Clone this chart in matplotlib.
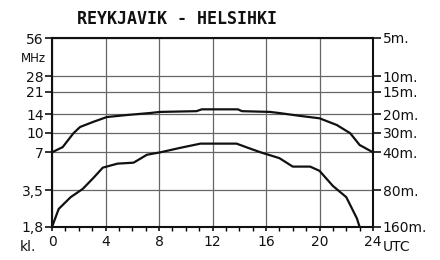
import numpy as np
import matplotlib
matplotlib.use('Agg')
import matplotlib.pyplot as plt
from matplotlib.ticker import NullLocator, FixedLocator

# %% data (hour UTC, MHz)
title = 'REYKJAVIK - HELSIHKI'

upper_hours = [0, 0.8, 1.6, 2.1, 3.1, 4.1, 5.6, 7.3, 8.1, 10.8, 11.2, 13.9, 14.2,
               16.3, 17.0, 18.5, 20.0, 21.3, 22.3, 23.0, 24]
upper_mhz = [7.0, 7.7, 9.9, 11.1, 12.2, 13.3, 13.8, 14.3, 14.6, 14.8, 15.3, 15.3, 14.8,
             14.6, 14.3, 13.6, 13.0, 11.5, 9.9, 8.0, 7.0]

lower_hours = [0, 0.5, 1.4, 2.3, 3.1, 3.8, 4.9, 6.1, 7.1, 8.1, 9.6, 11.1, 13.8,
               14.8, 15.6, 17.0, 18.0, 19.3, 20.0, 21.0, 22.0, 22.8, 23.0]
lower_mhz = [1.8, 2.5, 3.1, 3.6, 4.4, 5.3, 5.7, 5.8, 6.7, 7.0, 7.6, 8.2, 8.2,
             7.5, 7.0, 6.3, 5.4, 5.4, 5.0, 3.8, 3.1, 2.1, 1.8]

freq_ticks = [1.8, 3.5, 7, 10, 14, 21, 28, 56]
freq_labels = ['1,8', '3,5', '7', '10', '14', '21', '28', '56']
band_labels = ['160m.', '80m.', '40m.', '30m.', '20m.', '15m.', '10m.', '5m.']
hour_ticks = [0, 4, 8, 12, 16, 20, 24]

# %% plot
fig = plt.figure(figsize=(4.4, 2.6), dpi=100)
ax = fig.add_axes([52 / 440, 1 - 227 / 260, (373 - 52) / 440, (227 - 38) / 260])

ax.set_yscale('log')
ax.set_xlim(0, 24)
ax.set_ylim(1.8, 56)

ax.plot(upper_hours, upper_mhz, color='#111111', lw=1.6, solid_joinstyle='round')
ax.plot(lower_hours, lower_mhz, color='#111111', lw=1.6, solid_joinstyle='round')

ax.yaxis.set_major_locator(FixedLocator(freq_ticks))
ax.yaxis.set_minor_locator(NullLocator())
ax.set_yticklabels(freq_labels)
ax.set_xticks(hour_ticks)
ax.set_xticklabels([str(h) for h in hour_ticks])
ax.xaxis.set_minor_locator(FixedLocator(range(25)))

ax.grid(True, which='major', color='#666666', lw=0.9)
for s in ax.spines.values():
    s.set_linewidth(1.5)
    s.set_color('#111111')

ax.tick_params(axis='y', which='major', direction='out', length=5, width=1.2,
               labelsize=10, pad=1, colors='#111111')
ax.tick_params(axis='x', which='major', direction='out', length=3, width=1.2,
               labelsize=10, pad=3, colors='#111111')
ax.tick_params(axis='x', which='minor', direction='out', length=3, width=1.0)

ax2 = ax.twinx()
ax2.set_yscale('log')
ax2.set_ylim(1.8, 56)
ax2.yaxis.set_major_locator(FixedLocator(freq_ticks))
ax2.yaxis.set_minor_locator(NullLocator())
ax2.set_yticklabels(band_labels)
ax2.tick_params(axis='y', direction='out', length=6, width=1.2, labelsize=10, pad=1,
                colors='#111111')
for s in ax2.spines.values():
    s.set_visible(False)

ax.text(-0.02, 0.89, 'MHz', transform=ax.transAxes, ha='right', va='center',
        fontsize=8.5, color='#111111')
ax.text(-0.05, -0.105, 'kl.', transform=ax.transAxes, ha='right', va='center',
        fontsize=10, color='#111111')
ax.text(1.03, -0.105, 'UTC', transform=ax.transAxes, ha='left', va='center',
        fontsize=10, color='#111111')

fig.text(177 / 440, 1 - 19 / 260, title, ha='center', va='center',
         family='DejaVu Sans Mono', fontweight='bold', fontsize=12, color='#111111')

fig.savefig('out.png', dpi=100)
plt.close()
